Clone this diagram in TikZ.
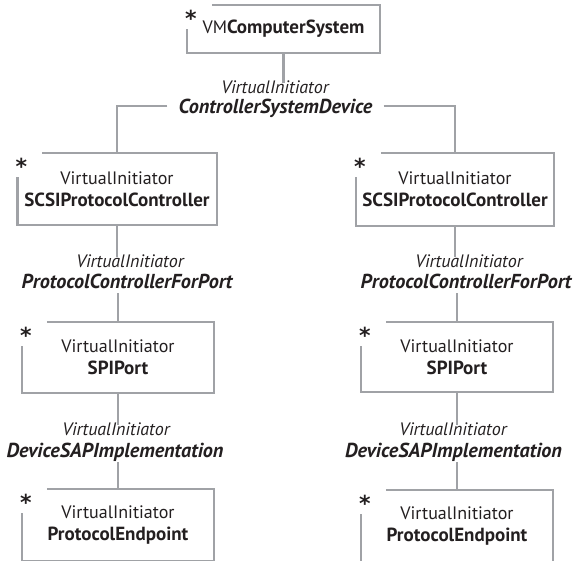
\documentclass[tikz,border=0pt]{standalone}
\usepackage{fontspec}
\setmainfont{PT Sans}
\newfontfamily\starfont{DejaVu Sans}
\definecolor{linegray}{RGB}{160,162,166}
\definecolor{ink}{RGB}{35,31,32}
\newcommand\clsname[1]{{\fontsize{19}{22}\selectfont\bfseries #1}}
\newcommand\assocname[1]{{\fontsize{20.2}{22}\selectfont\bfseries #1}}
\tikzset{
  lnk/.style={draw=linegray, line width=2.4pt},
  cls/.style={inner sep=0pt, align=center, text=ink,
    font=\fontsize{18}{22}\selectfont},
  assoc/.style={inner xsep=11pt, inner ysep=3pt, text=ink,
    text height=0.72em, text depth=0.22em,
    font=\fontsize{18}{22}\selectfont\itshape},
  starmark/.style={inner sep=0pt, text=ink, anchor=base,
    font=\starfont\fontsize{22}{22}\selectfont\bfseries}
}
% class box whose top-left corner is left open for the multiplicity star
\newcommand\gapbox[1]{%
  \draw[lnk] ([xshift=25pt]#1.north west) -- (#1.north east) -- (#1.south east)
    -- (#1.south west) -- ([yshift=-24pt]#1.north west);
  \node[starmark] (#1-star) at ([xshift=4pt,yshift=-22pt]#1.north west) {*};}
\begin{document}
\begin{tikzpicture}[x=1pt, y=-1pt]
\path[use as bounding box, clip] (0,0) rectangle (575,560);

% classes
\node[cls, minimum width=193pt, minimum height=48pt] (top) at (283.5,29)
  {\raisebox{-2pt}{VM\clsname{ComputerSystem}}};
\node[cls, minimum width=199pt, minimum height=72pt] (L1) at (117,189)
  {VirtualInitiator\\\clsname{SCSIProtocolController}};
\node[cls, minimum width=198pt, minimum height=73pt] (R1) at (455,189.5)
  {VirtualInitiator\\\clsname{SCSIProtocolController}};
\node[cls, minimum width=192pt, minimum height=71pt] (L2) at (118,357.5)
  {VirtualInitiator\\\clsname{SPIPort}};
\node[cls, minimum width=192pt, minimum height=70pt] (R2) at (457,357)
  {VirtualInitiator\\\clsname{SPIPort}};
\node[cls, minimum width=192pt, minimum height=72pt] (L3) at (118,525)
  {VirtualInitiator\\\clsname{ProtocolEndpoint}};
\node[cls, minimum width=192pt, minimum height=72pt] (R3) at (457,526)
  {VirtualInitiator\\\clsname{ProtocolEndpoint}};

\foreach \b in {top,L1,R1,L2,R2,L3,R3} {\gapbox{\b}}

% association labels
\node[assoc, anchor=base] (A1) at (275,93) {VirtualInitiator};
\node[assoc, anchor=base] (A2) at (275.5,113) {\assocname{ControllerSystemDevice}};
\node[assoc, anchor=base] (LB1) at (130,267) {VirtualInitiator};
\node[assoc, anchor=base] (LB2) at (127,288) {\assocname{ProtocolControllerForPort}};
\node[assoc, anchor=base] (RB1) at (469,267) {VirtualInitiator};
\node[assoc, anchor=base] (RB2) at (466,288) {\assocname{ProtocolControllerForPort}};
\node[assoc, anchor=base] (LC1) at (116,435) {VirtualInitiator};
\node[assoc, anchor=base] (LC2) at (115,457) {\assocname{DeviceSAPImplementation}};
\node[assoc, anchor=base] (RC1) at (453,435) {VirtualInitiator};
\node[assoc, anchor=base] (RC2) at (453.5,457) {\assocname{DeviceSAPImplementation}};

% connectors
\draw[lnk] (top.south) -- (top.south |- A1.north);
\draw[lnk] ([yshift=4.5pt]A2.west) -| (L1.north);
\draw[lnk] ([yshift=4.5pt]A2.east) -| (R1.north);
\draw[lnk] (L1.south) -- (L1.south |- LB1.north);
\draw[lnk] (LB2.south -| L2.north) -- (L2.north);
\draw[lnk] (R1.south) -- (R1.south |- RB1.north);
\draw[lnk] (RB2.south -| R2.north) -- (R2.north);
\draw[lnk] (L2.south) -- (L2.south |- LC1.north);
\draw[lnk] (LC2.south -| L3.north) -- (L3.north);
\draw[lnk] (R2.south) -- (R2.south |- RC1.north);
\draw[lnk] (RC2.south -| R3.north) -- (R3.north);
\end{tikzpicture}
\end{document}
